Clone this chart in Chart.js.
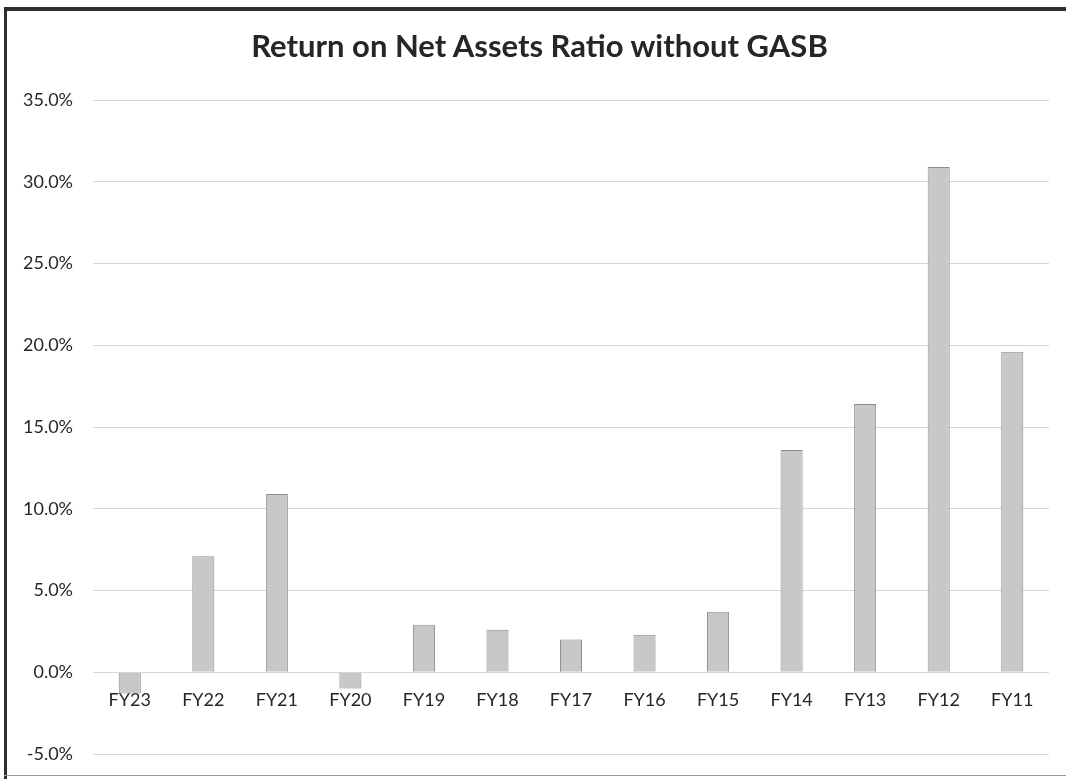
<!DOCTYPE html>
<html>
<head>
<meta charset="utf-8">
<script src="https://cdn.jsdelivr.net/npm/chart.js@4.4.0/dist/chart.umd.min.js"></script>
<style>
    body { margin: 0; background: #fff; }
    #wrap { position: relative; width: 1066px; height: 779px; overflow: hidden; }
    #dvCanvas { position: absolute; left: 0; top: 0; }
    #title {
        position: absolute; left: 0; top: 27px; width: 1079px; height: 37px;
        line-height: 37px; text-align: center; white-space: nowrap;
        font-family: 'Lato'; font-weight: bold; font-size: 31px; color: #262626;
    }
    .edge { position: absolute; background: #2e2e2e; }
</style>
</head>
<body>
<div id="wrap">
    <canvas id="dvCanvas" width="1066" height="779"></canvas>
    <div id="title"></div>
    <div class="edge" style="left:4px; top:7px; width:1062px; height:4px;"></div>
    <div class="edge" style="left:4px; top:7px; width:3px; height:772px;"></div>
    <div class="edge" style="left:4px; top:775px; width:1062px; height:1px; background:#9a9a9a;"></div>
</div>
<script>
var chartTitle = 'Return on Net Assets Ratio without GASB';
var years = ['FY23', 'FY22', 'FY21', 'FY20', 'FY19', 'FY18', 'FY17', 'FY16', 'FY15', 'FY14', 'FY13', 'FY12', 'FY11'];
var returnPct = [-1.3, 7.1, 10.9, -1.0, 2.9, 2.6, 2.0, 2.3, 3.7, 13.6, 16.4, 30.9, 19.6];
var yTicks = [-5, 0, 5, 10, 15, 20, 25, 30, 35];

// title sits a bit right of the canvas centre, like the original
document.getElementById('title').textContent = chartTitle;

var ctx = document.getElementById("dvCanvas").getContext('2d');
var myChart = new Chart(ctx, {
    type: 'bar',
    data: {
        labels: years,
        datasets: [{
            data: returnPct,
            backgroundColor: '#c7c9c7',
            borderColor: '#8c8c8c',
            borderWidth: 1,
            barPercentage: 0.3,
            categoryPercentage: 1
        }]
    },
    options: {
        responsive: false,
        animation: false,
        layout: {
            padding: { left: 0, right: 17, top: 100, bottom: 25 }
        },
        plugins: {
            legend: { display: false },
            tooltip: { enabled: false },
            title: { display: false }
        },
        scales: {
            x: {
                position: { y: 0 },
                z: 1, // labels sit on top of the negative bars
                grid: { display: false, drawTicks: false },
                border: { display: false },
                ticks: {
                    color: '#262626',
                    padding: 17,
                    font: { family: 'Lato', size: 18 }
                },
                afterFit: function (scale) {
                    scale.height = 0;
                    scale.paddingTop = 0;
                    scale.paddingBottom = 0;
                }
            },
            y: {
                min: yTicks[0],
                max: yTicks[yTicks.length - 1],
                afterBuildTicks: function (scale) {
                    scale.ticks = yTicks.map(function (v) { return { value: v }; });
                },
                grid: { color: '#d6d6d6', drawTicks: false },
                border: { display: false },
                ticks: {
                    color: '#262626',
                    padding: 20,
                    font: { family: 'Lato', size: 18 },
                    callback: function (v) { return v.toFixed(1) + '%'; }
                },
                afterFit: function (scale) {
                    scale.width = 93;
                    scale.paddingTop = 0;
                    scale.paddingBottom = 0;
                }
            }
        }
    }
});
</script>
</body>
</html>
